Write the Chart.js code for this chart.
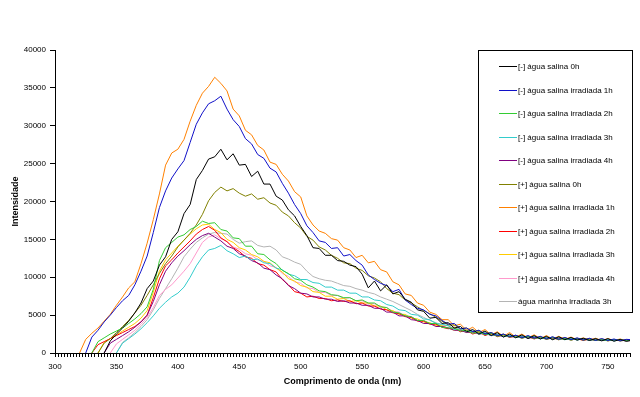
<!DOCTYPE html>
<html>
<head>
<meta charset="utf-8">
<script src="https://cdn.jsdelivr.net/npm/chart.js@4.4.1/dist/chart.umd.min.js"></script>
<style>
  html, body { margin: 0; padding: 0; background: #fff; }
  #wrap { width: 640px; height: 397px; }
</style>
</head>
<body>
<div id="wrap"><canvas id="espectro"></canvas></div>
<script>
// comprimento de onda (nm)
const wavelength = [320,325,330,335,340,345,350,355,360,365,
  370,375,380,385,390,395,400,405,410,415,
  420,425,430,435,440,445,450,455,460,465,
  470,475,480,485,490,495,500,505,510,515,
  520,525,530,535,540,545,550,555,560,565,
  570,575,580,585,590,595,600,605,610,615,
  620,625,630,635,640,645,650,655,660,665,
  670,675,680,685,690,695,700,705,710,715,
  720,725,730,735,740,745,750,755,760,765,
  770]

const salina0h = [null,null,null,null,0,1600,2500,3300,4200,5300,
  6600,8500,9500,11600,12700,15000,16000,18400,19600,22900,
  24100,25600,25900,26900,25500,26300,24800,24900,23300,24000,
  22300,22300,20700,20200,18900,18100,16700,15500,13900,13800,
  12900,12900,12200,12100,11600,11400,10400,8600,9500,8200,
  9000,7800,8100,7100,6700,5700,5500,4600,4700,3900,
  4000,3300,3500,2800,3100,2500,2900,2300,2700,2100,
  2500,2000,2400,1900,2300,1850,2200,1750,2150,1750,
  2050,1700,1950,1650,1900,1600,1900,1550,1800,1550,
  1700]

const salinaIrr1h = [null,0,2100,3000,4100,5000,6000,6900,7600,9000,
  10800,12800,15900,19200,21400,23100,24300,25400,27800,30200,
  31700,32900,33300,33900,32200,30800,29900,28300,27600,26200,
  25700,24400,23900,22400,21100,19600,18400,16800,15900,14800,
  14600,13800,13900,12800,13000,12200,11600,10300,9700,9200,
  8900,8100,8400,7000,6400,5900,5700,5100,4900,4300,
  3800,3900,3200,3300,2800,3000,2500,2700,2300,2500,
  2150,2350,2000,2300,1950,2200,1850,2150,1800,2050,
  1750,2000,1700,1950,1650,1900,1650,1850,1600,1800,
  1750]

const salinaIrr2h = [null,null,0,1500,2000,2500,2900,3300,3900,4500,
  5200,6100,8400,12200,13900,14600,15300,15600,16300,16700,
  17400,17100,17200,16300,16100,15200,15100,14100,14100,13100,
  13000,12300,11800,10900,10500,9800,9600,9000,8700,8200,
  8100,7700,7600,7300,7300,6900,7000,6600,6600,6100,
  6000,5400,5300,4900,4800,4300,4300,3900,3900,3400,
  3300,3300,2900,3000,2600,2800,2400,2600,2200,2400,
  2100,2250,1950,2200,1900,2100,1800,2050,1750,1950,
  1700,1900,1700,1850,1650,1800,1600,1800,1600,1700,
  1650]

const salinaIrr3h = [null,null,null,null,null,null,0,1300,1900,2500,
  3200,4000,4900,5900,6700,7400,7900,8700,10000,11500,
  12700,13600,13800,14200,13500,13100,12600,12800,12300,12400,
  11900,11800,11200,11000,10400,10200,9700,9700,9300,9200,
  8700,8700,8300,8300,7900,7900,7400,7400,7000,6900,
  6400,6200,5700,5600,5100,5000,4500,4400,3900,3800,
  3600,3100,3200,2800,2900,2500,2700,2300,2500,2150,
  2350,2050,2250,1950,2200,1850,2100,1800,2050,1750,
  1950,1700,1900,1650,1850,1650,1800,1600,1750,1600,
  1700]

const salinaIrr4h = [null,null,null,null,0,1300,1800,2300,2800,3400,
  4100,5000,6800,9000,10800,11900,12800,13500,14300,15000,
  15500,15800,15300,14800,14100,13800,13100,12800,12200,11900,
  11200,11000,10300,9800,8900,8500,7900,7800,7400,7400,
  7100,7100,6800,6900,6600,6600,6300,6300,5900,5900,
  5400,5400,4900,4900,4400,4300,3900,3900,3500,3500,
  3300,3000,3000,2700,2800,2500,2600,2300,2400,2150,
  2250,2050,2200,1950,2100,1900,2050,1850,2000,1800,
  1900,1750,1850,1700,1800,1650,1750,1650,1700,1600,
  1650]

const plusSalina0h = [null,null,null,0,1300,1900,2700,3500,4300,5300,
  6300,7600,9000,10500,11800,12800,14000,14900,15800,16900,
  18300,20100,21200,21900,21400,21700,21100,20700,21000,20300,
  20500,19800,19500,18600,18100,17200,16500,15400,14900,14000,
  13600,12900,12500,11900,11800,11200,10900,10200,9900,9400,
  8500,7900,7700,7000,6600,6100,5600,5200,4700,4200,
  3700,3700,3200,3300,2800,3000,2500,2700,2300,2500,
  2150,2350,2050,2250,1950,2150,1900,2100,1850,2000,
  1800,1950,1750,1900,1700,1850,1650,1800,1650,1750,
  1700]

const plusIrr1h = [0,1800,2600,3300,4200,5100,6300,7400,8600,9400,
  11800,14500,17600,21000,24800,26400,26900,28200,30600,32700,
  34300,35200,36400,35600,34600,32200,31300,29400,28800,27400,
  26800,25200,24900,23600,22700,21300,20600,18100,16900,16100,
  15800,15100,14900,13900,13600,12600,12900,11900,12100,11000,
  10700,9400,9000,7800,7600,6600,6300,5400,5100,4400,
  4400,3600,3800,3000,3400,2700,3100,2400,2800,2200,
  2700,2100,2500,2000,2400,1900,2300,1850,2200,1800,
  2100,1750,2000,1700,1950,1650,1900,1650,1850,1600,
  1750]

const plusIrr2h = [null,null,0,1100,1500,1900,2300,2700,3100,3500,
  4100,5000,7300,9800,11500,12300,13200,14000,14800,15700,
  16300,16700,16200,15200,14700,13900,13400,12700,12500,11800,
  11600,11000,10700,9700,9000,8100,7900,7400,7500,7200,
  7200,6900,7000,6800,6900,6500,6600,6200,6200,5800,
  5700,5300,5200,4800,4700,4200,4200,3800,3800,3400,
  3200,3300,2800,3000,2500,2800,2300,2600,2150,2400,
  2050,2250,1950,2150,1850,2100,1800,2000,1750,1950,
  1700,1900,1650,1850,1650,1800,1600,1750,1600,1700,
  1650]

const plusIrr3h = [null,null,null,0,1400,1900,2400,2900,3400,3900,
  4600,5600,8000,10800,12300,13200,14100,14900,15700,16400,
  16900,17000,16300,15900,15000,14600,13900,13600,13000,12700,
  12100,11900,11200,10700,9800,9500,8900,8700,8100,8000,
  7500,7500,7100,7200,6800,6900,6600,6600,6200,6200,
  5700,5600,5100,5100,4600,4500,4100,4000,3600,3600,
  3300,3000,3100,2700,2800,2500,2700,2300,2500,2200,
  2350,2050,2250,2000,2150,1900,2100,1850,2000,1800,
  1950,1750,1900,1700,1850,1650,1800,1650,1750,1600,
  1700]

const plusIrr4h = [null,null,null,null,null,0,1200,1800,2400,3000,
  3800,4700,6000,7600,8400,9000,9900,10800,11800,13200,
  14600,15300,15600,15100,14700,14000,13700,13100,12900,12300,
  12100,11500,11300,10500,10100,9400,9200,8600,8500,8000,
  8000,7600,7600,7200,7300,6900,6900,6500,6500,6100,
  6000,5500,5400,4900,4800,4300,4300,3900,3900,3500,
  3300,3400,2900,3000,2700,2800,2450,2600,2300,2400,
  2150,2300,2050,2200,1950,2150,1900,2050,1850,2000,
  1800,1950,1750,1900,1700,1850,1650,1800,1650,1750,
  1650]

const marinhaIrr3h = [null,null,null,null,null,null,0,1400,2000,2700,
  3500,4400,5700,7200,8500,9800,11200,12700,13700,14600,
  15200,15700,15900,15800,15700,15000,14500,14700,14800,14200,
  14000,14100,13600,12700,12400,12000,11700,10800,10100,9800,
  9600,9500,9200,8900,8800,8500,8300,8000,7800,7400,
  7100,6800,6400,6000,5600,5100,4700,4300,4000,3700,
  3600,3200,3200,2800,2900,2600,2700,2400,2500,2200,
  2400,2100,2250,2000,2200,1950,2100,1900,2050,1850,
  2000,1800,1900,1750,1850,1700,1800,1700,1750,1650,
  1700]

const seriesNames = ['[-] água salina 0h', '[-] água salina irradiada 1h', '[-] água salina irradiada 2h',
  '[-] água salina irradiada 3h', '[-] água salina irradiada 4h', '[+] água salina 0h',
  '[+] água salina irradiada 1h', '[+] água salina irradiada 2h', '[+] água salina irradiada 3h',
  '[+] água salina irradiada 4h', 'água marinha irradiada 3h']
const seriesValues = [salina0h, salinaIrr1h, salinaIrr2h, salinaIrr3h, salinaIrr4h, plusSalina0h,
  plusIrr1h, plusIrr2h, plusIrr3h, plusIrr4h, marinhaIrr3h]
const seriesColors = ['#000000', '#1010c8', '#33cc33', '#33cccc', '#800080', '#808000',
  '#ff8000', '#ff0000', '#ffcc00', '#ff99cc', '#b4b4b4']

Chart.defaults.font.family = '"Liberation Sans", Arial, sans-serif'
Chart.defaults.font.size = 8
Chart.defaults.color = '#000'

// legenda desenhada dentro da area do grafico, como no excel
const caixaLegenda = {
  id: 'caixaLegenda',
  afterDraw(chart) {
    const ctx = chart.ctx
    const x0 = 478.5, y0 = 50.5, w = 154, h = 262
    ctx.save()
    ctx.fillStyle = '#fff'
    ctx.fillRect(x0, y0, w, h)
    ctx.strokeStyle = '#000'
    ctx.lineWidth = 1
    ctx.strokeRect(x0, y0, w, h)
    ctx.font = '8px "Liberation Sans", Arial, sans-serif'
    ctx.textBaseline = 'middle'
    chart.data.datasets.forEach((ds, i) => {
      const y = Math.round(66 + i * 23.5) + 0.5
      ctx.strokeStyle = ds.borderColor
      ctx.beginPath()
      ctx.moveTo(499, y)
      ctx.lineTo(517, y)
      ctx.stroke()
      ctx.fillStyle = '#000'
      ctx.fillText(ds.label, 518, y)
    })
    ctx.restore()
  }
}

new Chart(document.getElementById('espectro'), {
  type: 'line',
  data: {
    datasets: seriesNames.map((name, k) => ({
      label: name,
      data: wavelength.map((wl, i) => ({ x: wl, y: seriesValues[k][i] })),
      borderColor: seriesColors[k],
      borderWidth: 1,
      pointRadius: 0,
      tension: 0,
      fill: false
    }))
  },
  options: {
    responsive: true,
    maintainAspectRatio: false,
    animation: false,
    layout: { padding: { top: 50, right: 10, left: 0, bottom: 0 } },
    plugins: {
      legend: { display: false },
      tooltip: { enabled: false }
    },
    scales: {
      x: {
        type: 'linear',
        min: 300,
        max: 768,
        ticks: {
          stepSize: 2.5,
          maxTicksLimit: 1000,
          autoSkip: false,
          maxRotation: 0,
          minRotation: 0,
          padding: 5,
          callback: v => (v % 50 === 0 ? v : '')
        },
        grid: { drawOnChartArea: false, tickLength: 4, color: '#000' },
        border: { color: '#000' },
        title: {
          display: true,
          text: 'Comprimento de onda (nm)',
          font: { size: 9, weight: 'bold' },
          padding: { top: 4, bottom: 10 }
        },
        afterFit: s => { s.height = 44 }
      },
      y: {
        min: 0,
        max: 40000,
        ticks: { stepSize: 5000, padding: 4, callback: v => v },
        grid: { drawOnChartArea: false, tickLength: 5, color: '#000' },
        border: { color: '#000' },
        title: {
          display: true,
          text: 'Intensidade',
          font: { size: 9, weight: 'bold' },
          padding: { top: 10, bottom: 0 }
        },
        afterFit: s => { s.width = 55 }
      }
    }
  },
  plugins: [caixaLegenda]
})
</script>
</body>
</html>
